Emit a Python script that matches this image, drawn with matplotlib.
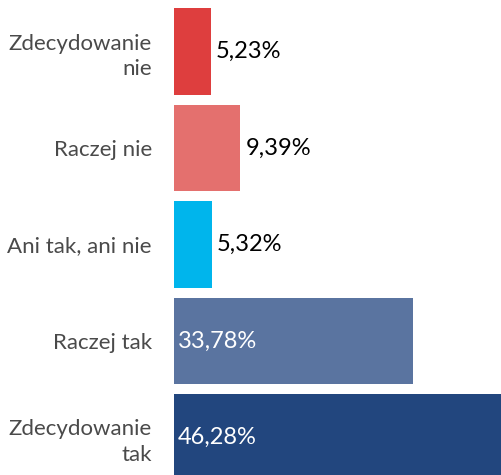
import matplotlib.pyplot as plt

plt.rcParams["font.family"] = ["Lato", "DejaVu Sans"]

categories = ["Zdecydowanie\nnie", "Raczej nie", "Ani tak, ani nie", "Raczej tak", "Zdecydowanie\ntak"]
values = [5.23, 9.39, 5.32, 33.78, 46.28]
colors = ["#de3e3e", "#e4706e", "#00b5ec", "#5a74a0", "#22467e"]
inside = [False, False, False, True, True]

fig = plt.figure(figsize=(5.01, 4.75), dpi=100)
ax = fig.add_axes([174 / 501, 0, 327 / 501, 1])

pos = list(range(len(categories)))
ax.barh(pos, values, height=0.9, color=colors)
ax.set_xlim(0, 46.28)
ax.set_ylim(4.389, -0.534)

ax.set_yticks(pos)
ax.set_yticklabels(categories, fontsize=16, color="#4a4a4a", ha="right",
                   linespacing=1.35)
ax.tick_params(axis="y", length=0, pad=16)
ax.set_xticks([])
for s in ax.spines.values():
    s.set_visible(False)

for p, v, inn in zip(pos, values, inside):
    txt = f"{v:.2f}%".replace(".", ",")
    if inn:
        ax.text(0.55, p, txt, va="center", ha="left", fontsize=17, color="white")
    else:
        ax.text(v + 0.7, p, txt, va="center", ha="left", fontsize=17, color="black")

fig.savefig("out.png", dpi=100)
